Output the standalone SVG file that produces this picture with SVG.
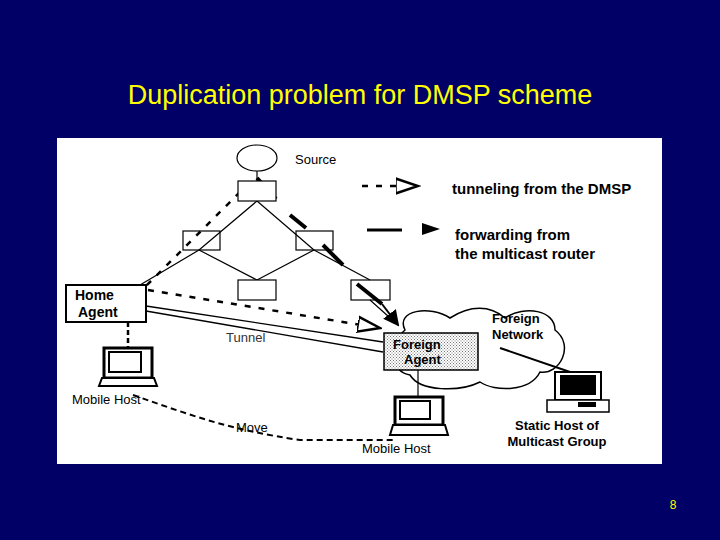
<svg xmlns="http://www.w3.org/2000/svg" width="720" height="540" viewBox="0 0 720 540">
<defs>
<style>
.t{font-family:"Liberation Sans",Arial,sans-serif;font-size:13px;fill:#000;font-weight:bold}
.ln{stroke:#000;stroke-width:1.2;fill:none}
.box{fill:#fff;stroke:#000;stroke-width:1.2}
.fw{stroke:#000;stroke-width:4;fill:none}
.tn{stroke:#000;stroke-width:2.5;stroke-dasharray:6 8;fill:none}
</style>
<pattern id="dots" width="3" height="3" patternUnits="userSpaceOnUse"><rect width="3" height="3" fill="#fff"/><rect width="1" height="1" fill="#777"/><rect x="1.5" y="1.5" width="1" height="1" fill="#777"/></pattern>
<marker id="ar" markerWidth="8" markerHeight="8" refX="7" refY="4" orient="auto"><path d="M0,0L8,4L0,8z" fill="#000"/></marker>
<marker id="ao" markerWidth="10" markerHeight="8" refX="9" refY="4" orient="auto"><path d="M0,1L9,4L0,7z" fill="#fff" stroke="#000"/></marker>
</defs>
<rect width="720" height="540" fill="#000066"/>
<text x="360" y="104" text-anchor="middle" style="font-family:'Liberation Sans',Arial,sans-serif;font-size:27px;fill:#ffff00">Duplication problem for DMSP scheme</text>
<text x="673" y="509" text-anchor="middle" style="font-family:'Liberation Sans',Arial,sans-serif;font-size:12px;fill:#ffff00">8</text>
<rect x="57" y="138" width="605" height="326" fill="#fff"/>
<g id="cloud"><path d="M405,330 C395,310 430,305 450,318 C470,305 490,305 505,318 C525,305 555,310 555,330 C575,345 560,375 540,372 C530,392 495,392 480,382 C460,392 420,392 410,375 C390,372 388,345 405,330 Z" fill="#fff" stroke="#000" stroke-width="1.5"/></g>
<g id="connectors">
<line class="ln" x1="257" y1="171" x2="257" y2="181"/>
<path class="ln" d="M257,201 L199,250 M257,201 L314,250 M199,250 L140,285 M199,250 L257,280 M314,250 L257,280 M314,250 L370,280 M370,300 L398,325"/>
<path class="fw" d="M257,178 L276,199 M290,215 L306,228 M323,245 L343,265 M357,284 L382,304" />
<line x1="382" y1="304" x2="398" y2="325" stroke="#000" stroke-width="2" marker-end="url(#ar)"/>
<path class="tn" d="M250,182 L146,286" />
<path class="tn" d="M148,290 L380,328" marker-end="url(#ao)"/>
<path d="M146,306 L383,342 M146,311 L383,352" stroke="#000" stroke-width="1.3" fill="none"/>
<line x1="128" y1="322" x2="128" y2="349" stroke="#000" stroke-width="2.5" stroke-dasharray="5 3"/>
<path d="M133,395 C190,415 230,430 300,440 L395,440" stroke="#000" stroke-width="2" stroke-dasharray="6 4" fill="none"/>
<line class="ln" x1="418" y1="370" x2="418" y2="398"/>
<line x1="500" y1="348" x2="573" y2="373" stroke="#000" stroke-width="2"/>
</g>
<g id="source"><ellipse cx="257" cy="158" rx="20" ry="13" class="box"/><text class="t" x="295" y="164" style="font-weight:normal">Source</text></g>
<g id="r1"><rect class="box" x="238" y="181" width="38" height="20"/></g>
<g id="r2"><rect class="box" x="183" y="231" width="37" height="19" style="fill:none"/></g>
<g id="r3"><rect class="box" x="296" y="231" width="37" height="19" style="fill:none"/></g>
<g id="r4"><rect class="box" x="238" y="280" width="38" height="20"/></g>
<g id="r5"><rect class="box" x="351" y="280" width="39" height="20" style="fill:none"/></g>
<g id="ha"><rect x="66" y="285" width="80" height="37" fill="#fff" stroke="#000" stroke-width="2"/><text class="t" x="75" y="300" style="font-size:14px">Home</text><text class="t" x="78" y="317" style="font-size:14px">Agent</text></g>
<text class="t" x="226" y="342" style="font-weight:normal;fill:#333">Tunnel</text>
<g id="fa"><rect x="384" y="333" width="94" height="37" fill="url(#dots)" stroke="#000" stroke-width="1.5"/><text class="t" x="393" y="349">Foreign</text><text class="t" x="404" y="364">Agent</text></g>
<g id="fn"><text class="t" x="492" y="323">Foreign</text><text class="t" x="492" y="339">Network</text></g>
<g id="mh1"><rect x="104" y="348" width="48" height="30" fill="#fff" stroke="#000" stroke-width="3"/><rect x="109" y="352" width="32" height="20" fill="#fff" stroke="#000" stroke-width="2"/><path d="M102,378 L154,378 L157,386 L99,386 Z" fill="#fff" stroke="#000" stroke-width="2"/><text class="t" x="72" y="404" style="font-weight:normal">Mobile Host</text></g>
<g id="mh2"><rect x="395" y="397" width="48" height="28" fill="#fff" stroke="#000" stroke-width="3"/><rect x="400" y="401" width="30" height="18" fill="#fff" stroke="#000" stroke-width="2"/><path d="M393,425 L445,425 L448,435 L390,435 Z" fill="#fff" stroke="#000" stroke-width="2"/><text class="t" x="362" y="453" style="font-weight:normal">Mobile Host</text></g>
<text class="t" x="236" y="432" style="font-weight:normal">Move</text>
<g id="sh"><rect x="555" y="372" width="46" height="28" fill="#fff" stroke="#000" stroke-width="2"/><rect x="560" y="375" width="36" height="20" fill="#000"/><rect x="547" y="400" width="62" height="12" fill="#fff" stroke="#000" stroke-width="1.5"/><rect x="578" y="402" width="18" height="5" fill="#000"/><text class="t" x="557" y="430" text-anchor="middle">Static Host of</text><text class="t" x="557" y="446" text-anchor="middle">Multicast Group</text></g>
<g id="legend">
<line class="tn" x1="362" y1="186" x2="418" y2="186" stroke-width="2.5" stroke-dasharray="5 6" marker-end="url(#ao)"/>
<text class="t" x="452" y="194" style="font-size:15px">tunneling from the DMSP</text>
<line x1="367" y1="230" x2="402" y2="230" stroke="#000" stroke-width="3"/>
<path d="M422,223 L440,229 L422,235 Z" fill="#000"/>
<text class="t" x="455" y="240" style="font-size:15px">forwarding from</text>
<text class="t" x="455" y="259" style="font-size:15px">the multicast router</text>
</g>
</svg>
